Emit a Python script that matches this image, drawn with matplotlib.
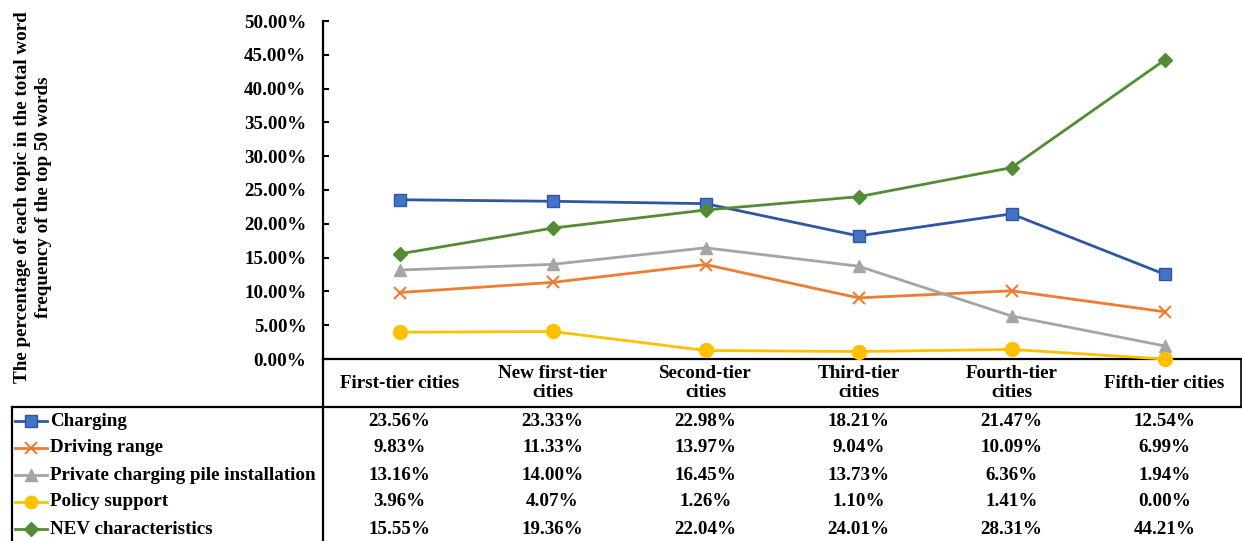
import matplotlib
matplotlib.use("Agg")
import matplotlib.pyplot as plt
from matplotlib.lines import Line2D
from matplotlib.ticker import FuncFormatter

categories = ["First-tier cities", "New first-tier\ncities", "Second-tier\ncities",
              "Third-tier\ncities", "Fourth-tier\ncities", "Fifth-tier cities"]
series_names = ["Charging", "Driving range", "Private charging pile installation",
                "Policy support", "NEV characteristics"]
charging = [23.56, 23.33, 22.98, 18.21, 21.47, 12.54]
driving_range = [9.83, 11.33, 13.97, 9.04, 10.09, 6.99]
private_pile = [13.16, 14.00, 16.45, 13.73, 6.36, 1.94]
policy_support = [3.96, 4.07, 1.26, 1.10, 1.41, 0.00]
nev_characteristics = [15.55, 19.36, 22.04, 24.01, 28.31, 44.21]
y_ticks = [0, 5, 10, 15, 20, 25, 30, 35, 40, 45, 50]
y_label = "The percentage of each topic in the total word\nfrequency of the top 50 words"

series = [charging, driving_range, private_pile, policy_support, nev_characteristics]
styles = [
    dict(color="#2F55A3", marker="s", mfc="#4472C4", mec="#2F55A3", ms=9),
    dict(color="#ED7D31", marker="x", mfc="#ED7D31", mec="#ED7D31", ms=9, mew=1.5),
    dict(color="#A5A5A5", marker="^", mfc="#A5A5A5", mec="#A5A5A5", ms=9),
    dict(color="#FFC000", marker="o", mfc="#FFC000", mec="#FFC000", ms=10),
    dict(color="#548C36", marker="D", mfc="#548C36", mec="#548C36", ms=7.5),
]

FONT = "Liberation Serif"
FS = 13.7
plt.rcParams["font.family"] = [FONT, "DejaVu Serif"]
plt.rcParams["font.weight"] = "bold"

W, H = 1242, 541
fig = plt.figure(figsize=(W / 100, H / 100), dpi=100)
x0, x1, ytop, ybot = 323, 1241, 21, 359
ax = fig.add_axes([x0 / W, (H - ybot) / H, (x1 - x0) / W, (ybot - ytop) / H])

xs = list(range(len(categories)))
for vals, st in zip(series, styles):
    ax.plot(xs, vals, lw=2, clip_on=False, zorder=3, **st)

ax.set_xlim(-0.5, len(categories) - 0.5)
ax.set_ylim(0, 50)
ax.set_yticks(y_ticks)
ax.yaxis.set_major_formatter(FuncFormatter(lambda v, p: f"{v:.2f}%"))
ax.tick_params(axis="y", direction="in", length=4, width=1.5, labelsize=FS, pad=12)
for lab in ax.get_yticklabels():
    lab.set_fontweight("bold")
ax.tick_params(axis="x", length=0, labelbottom=False)
for s in ["top", "right"]:
    ax.spines[s].set_visible(False)
ax.spines["left"].set_linewidth(1.6)
ax.spines["bottom"].set_linewidth(1.6)


def ay(px):
    return (ybot - px) / (ybot - ytop)


def axx(px):
    return (px - x0) / (x1 - x0)


lk = dict(transform=ax.transAxes, clip_on=False, color="black")
# table border lines
ax.add_line(Line2D([0, 0], [0, ay(541)], lw=1.6, **lk))
ax.add_line(Line2D([axx(12), 1.0], [ay(407), ay(407)], lw=1.6, **lk))
ax.add_line(Line2D([axx(12), axx(12)], [ay(407), ay(541)], lw=1.6, **lk))
ax.add_line(Line2D([1.0, 1.0], [0, ay(407)], lw=1.2, **lk))

# header
trans_hdr = ax.get_xaxis_transform()
for i, c in enumerate(categories):
    ax.text(i, ay(383), c, transform=trans_hdr, ha="center", va="center",
            fontsize=FS, fontweight="bold", linespacing=1.1, clip_on=False)

# body rows
row_y = [421, 448, 475, 502, 529]
for r, (name, vals, st) in enumerate(zip(series_names, series, styles)):
    yy = ay(row_y[r])
    ax.add_line(Line2D([axx(15), axx(31), axx(47)], [yy, yy, yy], transform=ax.transAxes,
                       clip_on=False, lw=2, markevery=[1],
                       **{**st, "ms": st["ms"] * 0.9}))
    ax.text(axx(50), yy, name, transform=ax.transAxes, ha="left", va="center",
            fontsize=FS, fontweight="bold", clip_on=False)
    for i, v in enumerate(vals):
        ax.text(i, yy, f"{v:.2f}%", transform=trans_hdr, ha="center", va="center",
                fontsize=FS, fontweight="bold", clip_on=False)

fig.text(33 / W, (H - 197) / H, y_label, rotation=90, ha="center", va="center",
         fontsize=FS, fontweight="bold", linespacing=1.25)

fig.savefig("out.png", dpi=100)
